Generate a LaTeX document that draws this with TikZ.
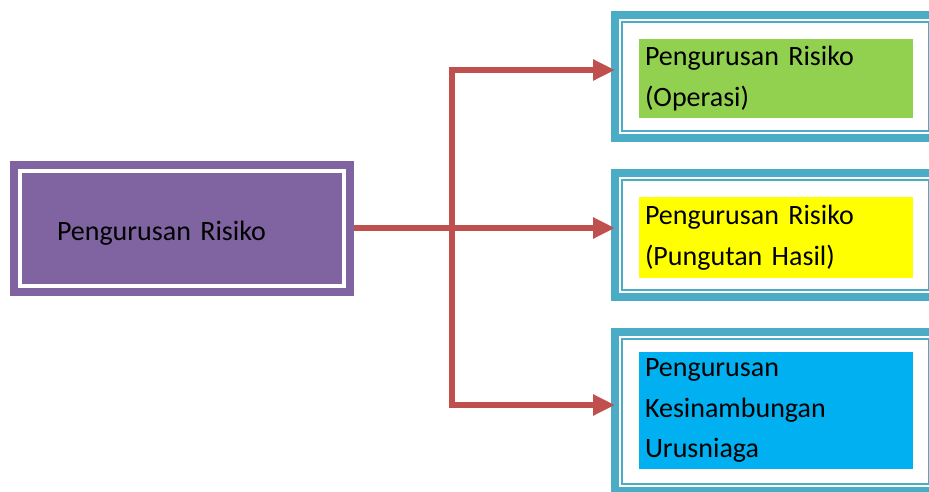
\documentclass[tikz,border=0pt]{standalone}
\usepackage{fontspec}
\setmainfont{Carlito}
\usetikzlibrary{arrows.meta}
\definecolor{riskpurple}{HTML}{8064A2}
\definecolor{frameblue}{HTML}{4BACC6}
\definecolor{opsgreen}{HTML}{92D050}
\definecolor{taxyellow}{HTML}{FFFF00}
\definecolor{bcmcyan}{HTML}{00B0F0}
\definecolor{linkred}{HTML}{C0504D}

\begin{document}
\begin{tikzpicture}[x=1pt,y=-1pt,
	main_node/.style={rectangle,fill=riskpurple,draw=riskpurple,double=white,double distance=4pt,line width=8pt,minimum width=324pt,minimum height=115pt,inner xsep=37pt,text width=250pt,align=left,outer sep=10pt,text height=24pt,text depth=0pt,font=\fontsize{28}{40.5}\selectfont},
	frame_node/.style={rectangle,draw=frameblue,fill=white,line width=8pt,minimum width=321pt,outer sep=0pt},
	thin_frame/.style={draw=frameblue,line width=2pt},
	item_node/.style={rectangle,minimum width=274pt,inner xsep=6pt,inner ysep=0pt,text width=262pt,align=left,font=\fontsize{28}{40.5}\selectfont},
	link/.style={draw=linkred,line width=6pt,-{Triangle[length=22pt,width=20pt]}}]
		
		\useasboundingbox (0,0) rectangle (929,491);
		\clip (0,0) rectangle (929,491);
		
		\node[main_node] (risk) at (182,228) {Pengurusan Risiko};
		
		\node[frame_node,minimum height=123pt] (opsbox) at (775.5,76.5) {};
		\node[frame_node,minimum height=124pt] (taxbox) at (775.5,235) {};
		\node[frame_node,minimum height=159pt] (bcmbox) at (775.5,411.5) {};
		
		\draw[thin_frame] ([shift={(7,7)}]opsbox.north west) rectangle ([shift={(-7,-7)}]opsbox.south east);
		\draw[thin_frame] ([shift={(7,7)}]taxbox.north west) rectangle ([shift={(-7,-7)}]taxbox.south east);
		\draw[thin_frame] ([shift={(7,7)}]bcmbox.north west) rectangle ([shift={(-7,-7)}]bcmbox.south east);
		
		\node[item_node,fill=opsgreen,minimum height=79pt] (ops) at (776,78.5) {Pengurusan Risiko\\(Operasi)};
		\node[item_node,fill=taxyellow,minimum height=81pt] (tax) at (776,237.5) {Pengurusan Risiko\\(Pungutan Hasil)};
		\node[item_node,fill=bcmcyan,minimum height=117pt] (bcm) at (776,410.5) {Pengurusan\\Kesinambungan\\Urusniaga};
		
		\coordinate (split) at (452,228);
		
		\draw[link] (risk.east) -- (risk.east -| taxbox.west);
		\draw[link] (split) |- ([yshift=6.5pt]opsbox.west);
		\draw[link] (split) |- ([yshift=6.5pt]bcmbox.west);
		\end{tikzpicture}
\end{document}
